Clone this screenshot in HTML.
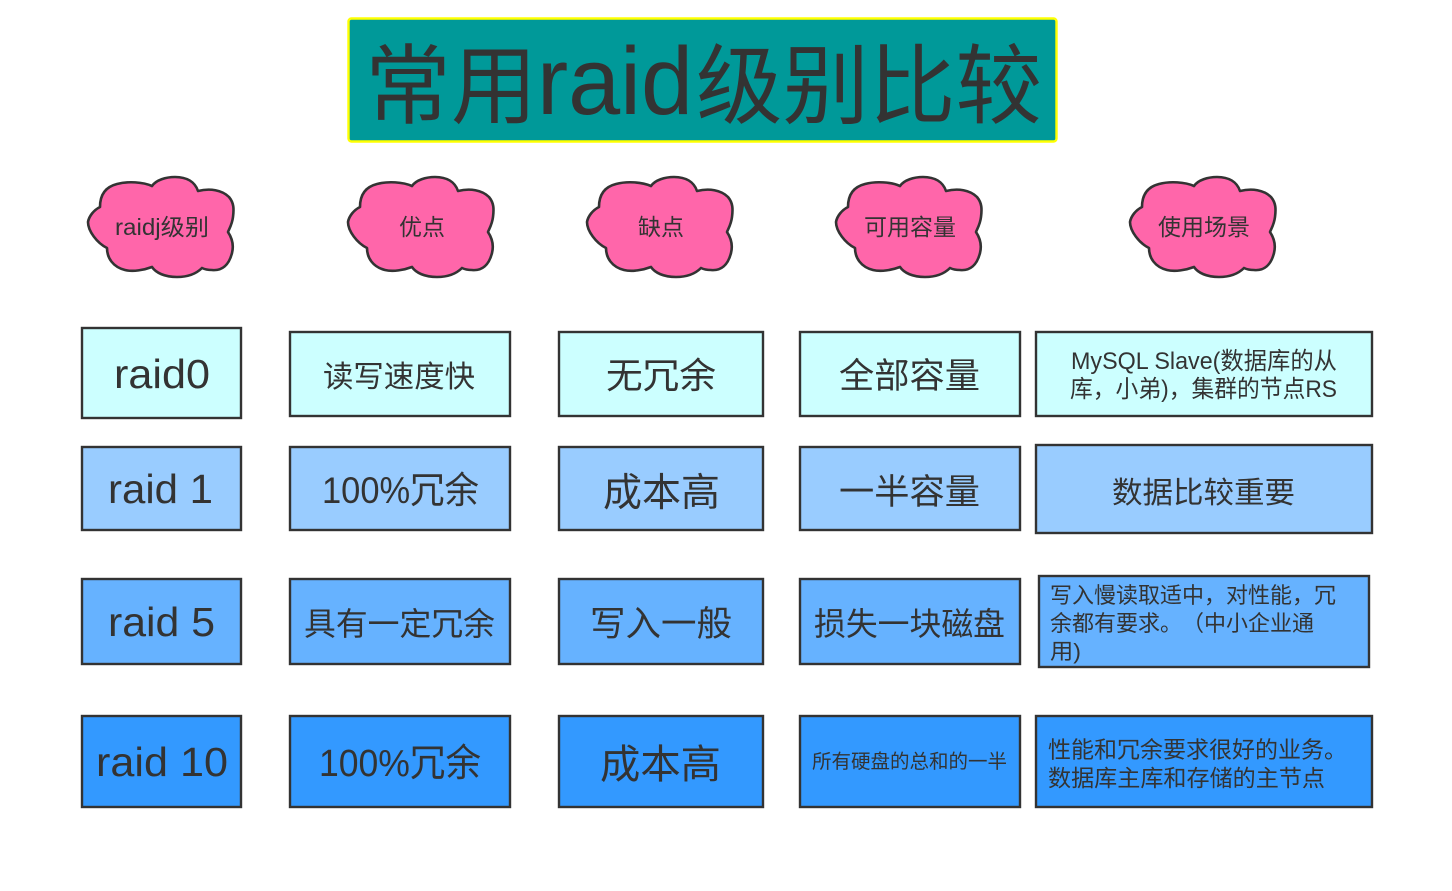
<!DOCTYPE html>
<html lang="zh"><head><meta charset="utf-8"><title>常用raid级别比较</title>
<style>
html,body{margin:0;padding:0;background:#fff}
svg{display:block}
text{font-family:"Liberation Sans","Noto Sans CJK SC",sans-serif;fill:#333;text-spacing-trim:space-all;}
.b{stroke:#333;stroke-width:2.4}
.a{fill:#CCFFFF}.c{fill:#99CCFF}.d{fill:#66B2FF}.e{fill:#3399FF}
</style></head><body>
<svg width="1452" height="891" viewBox="0 0 1452 891" xmlns="http://www.w3.org/2000/svg">
<defs>
<path id="cloud" d="M100 207C100 195 105 187 117 184C128 181 143 182 152 186C156 180 166 177 175 177C187 177 195 182 198 191C210 188 222 190 229 197C234 203 234 209 233 217C232 225 229 229 228 232C232 238 234 245 232 253C229 265 222 271 212 270C207 270 204 269 202 268C196 274 187 277 177 277C165 277 156 273 152 267C144 270 133 272 125 270C113 267 107 258 107 248C97 243 88 231 88 222C89 216 94 210 100 207Z" fill="#FF66AA" stroke="#333" stroke-width="2.6" stroke-linejoin="round"/>
</defs>

<rect x="348.5" y="18.5" width="708" height="123" rx="3" fill="#009999" stroke="#FFFF00" stroke-width="2.4"/>
<text x="365" y="116.5" font-size="87" textLength="172" lengthAdjust="spacingAndGlyphs">常用</text>
<text x="537" y="114" font-size="96" textLength="156" lengthAdjust="spacingAndGlyphs">raid</text>
<text x="696" y="116.5" font-size="87" textLength="346" lengthAdjust="spacingAndGlyphs">级别比较</text>

<use href="#cloud"/>
<use href="#cloud" x="260"/>
<use href="#cloud" x="499"/>
<use href="#cloud" x="748"/>
<use href="#cloud" x="1042"/>
<text x="115" y="235" font-size="23" textLength="94" lengthAdjust="spacingAndGlyphs">raidj级别</text>
<text x="399" y="235" font-size="23" textLength="46" lengthAdjust="spacingAndGlyphs">优点</text>
<text x="638" y="235" font-size="23" textLength="46" lengthAdjust="spacingAndGlyphs">缺点</text>
<text x="864" y="235" font-size="23" textLength="92" lengthAdjust="spacingAndGlyphs">可用容量</text>
<text x="1158" y="235" font-size="23" textLength="92" lengthAdjust="spacingAndGlyphs">使用场景</text>

<!-- row 1 -->
<rect class="b a" x="82" y="328" width="159" height="90"/>
<rect class="b a" x="290" y="332" width="220" height="84"/>
<rect class="b a" x="559" y="332" width="204" height="84"/>
<rect class="b a" x="800" y="332" width="220" height="84"/>
<rect class="b a" x="1036" y="332" width="336" height="84"/>
<text x="114" y="388" font-size="41" textLength="96" lengthAdjust="spacingAndGlyphs">raid0</text>
<text x="323" y="387" font-size="30" textLength="152" lengthAdjust="spacingAndGlyphs">读写速度快</text>
<text x="606" y="388" font-size="36" textLength="110" lengthAdjust="spacingAndGlyphs">无冗余</text>
<text x="839" y="388" font-size="35" textLength="141" lengthAdjust="spacingAndGlyphs">全部容量</text>
<text x="1071" y="369" font-size="24" textLength="266" lengthAdjust="spacingAndGlyphs">MySQL Slave(数据库的从</text>
<text x="1070" y="397" font-size="24" textLength="267" lengthAdjust="spacingAndGlyphs">库，小弟)，集群的节点RS</text>

<!-- row 2 -->
<rect class="b c" x="82" y="447" width="159" height="83"/>
<rect class="b c" x="290" y="447" width="220" height="83"/>
<rect class="b c" x="559" y="447" width="204" height="83"/>
<rect class="b c" x="800" y="447" width="220" height="83"/>
<rect class="b c" x="1036" y="445" width="336" height="88"/>
<text x="108" y="503" font-size="41" textLength="105" lengthAdjust="spacingAndGlyphs">raid 1</text>
<text x="322" y="503" font-size="37" textLength="157" lengthAdjust="spacingAndGlyphs">100%冗余</text>
<text x="603" y="506" font-size="39" textLength="117" lengthAdjust="spacingAndGlyphs">成本高</text>
<text x="839" y="504" font-size="35" textLength="141" lengthAdjust="spacingAndGlyphs">一半容量</text>
<text x="1112" y="503" font-size="30" textLength="183" lengthAdjust="spacingAndGlyphs">数据比较重要</text>

<!-- row 3 -->
<rect class="b d" x="82" y="579" width="159" height="85"/>
<rect class="b d" x="290" y="579" width="220" height="85"/>
<rect class="b d" x="559" y="579" width="204" height="85"/>
<rect class="b d" x="800" y="579" width="220" height="85"/>
<rect class="b d" x="1039" y="576" width="330" height="91"/>
<text x="108" y="636" font-size="41" textLength="107" lengthAdjust="spacingAndGlyphs">raid 5</text>
<text x="304" y="635" font-size="32" textLength="191" lengthAdjust="spacingAndGlyphs">具有一定冗余</text>
<text x="590" y="636" font-size="35" textLength="142" lengthAdjust="spacingAndGlyphs">写入一般</text>
<text x="814" y="635" font-size="32" textLength="191" lengthAdjust="spacingAndGlyphs">损失一块磁盘</text>
<text x="1050" y="603" font-size="22" textLength="286" lengthAdjust="spacingAndGlyphs">写入慢读取适中，对性能，冗</text>
<text x="1050" y="631" font-size="22" textLength="264" lengthAdjust="spacingAndGlyphs">余都有要求。（中小企业通</text>
<text x="1050" y="659" font-size="22" textLength="31" lengthAdjust="spacingAndGlyphs">用)</text>

<!-- row 4 -->
<rect class="b e" x="82" y="716" width="159" height="91"/>
<rect class="b e" x="290" y="716" width="220" height="91"/>
<rect class="b e" x="559" y="716" width="204" height="91"/>
<rect class="b e" x="800" y="716" width="220" height="91"/>
<rect class="b e" x="1036" y="716" width="336" height="91"/>
<text x="96" y="776" font-size="41" textLength="132" lengthAdjust="spacingAndGlyphs">raid 10</text>
<text x="319" y="776" font-size="38" textLength="162" lengthAdjust="spacingAndGlyphs">100%冗余</text>
<text x="600" y="778" font-size="40" textLength="121" lengthAdjust="spacingAndGlyphs">成本高</text>
<text x="812" y="768" font-size="19.4" textLength="195" lengthAdjust="spacingAndGlyphs">所有硬盘的总和的一半</text>
<text x="1048" y="757.5" font-size="23" textLength="299" lengthAdjust="spacingAndGlyphs">性能和冗余要求很好的业务。</text>
<text x="1048" y="786" font-size="23" textLength="277" lengthAdjust="spacingAndGlyphs">数据库主库和存储的主节点</text>
</svg>
</body></html>
